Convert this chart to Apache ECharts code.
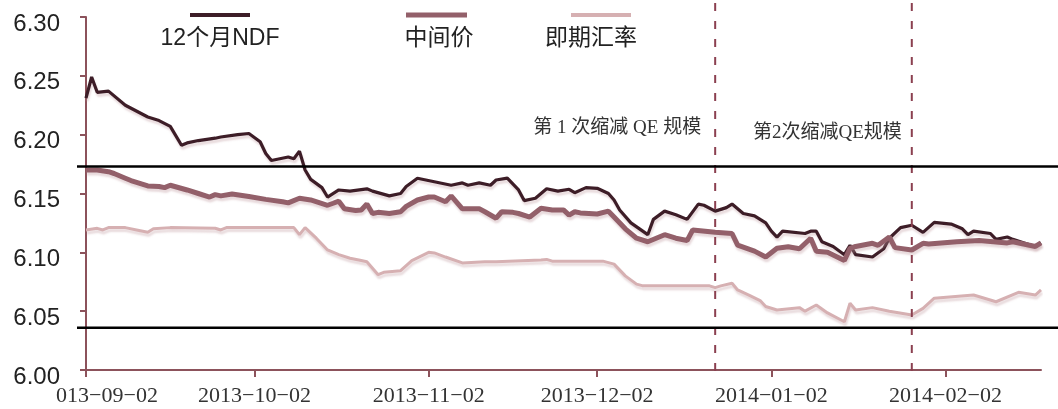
<!DOCTYPE html>
<html><head><meta charset="utf-8">
<script src="https://cdn.jsdelivr.net/npm/echarts@6/dist/echarts.min.js"></script>
<style>html,body{margin:0;padding:0;background:#fff}#c{width:1058px;height:409px}</style>
</head><body><div id="c"></div>
<script>
// ---- data ----
const startDate = '2013-09-02', endDate = '2014-02-19';
const yTicks = { min: 6.00, max: 6.30, step: 0.05 };
const seriesNames = ['12个月NDF', '中间价', '即期汇率'];

const ndfDates = ['2013-09-02','2013-09-03','2013-09-04','2013-09-06','2013-09-09','2013-09-13','2013-09-15','2013-09-17','2013-09-19','2013-09-20','2013-09-22','2013-09-25','2013-09-26','2013-09-29','2013-10-01','2013-10-03','2013-10-04','2013-10-05','2013-10-08','2013-10-09','2013-10-10','2013-10-11','2013-10-12','2013-10-14','2013-10-15','2013-10-17','2013-10-19','2013-10-22','2013-10-23','2013-10-26','2013-10-28','2013-10-29','2013-10-31','2013-11-03','2013-11-06','2013-11-08','2013-11-09','2013-11-11','2013-11-13','2013-11-14','2013-11-16','2013-11-18','2013-11-19','2013-11-21','2013-11-23','2013-11-25','2013-11-27','2013-11-28','2013-11-30','2013-12-02','2013-12-04','2013-12-05','2013-12-06','2013-12-08','2013-12-11','2013-12-12','2013-12-14','2013-12-16','2013-12-18','2013-12-20','2013-12-21','2013-12-23','2013-12-25','2013-12-26','2013-12-28','2013-12-30','2014-01-01','2014-01-02','2014-01-03','2014-01-04','2014-01-08','2014-01-09','2014-01-10','2014-01-11','2014-01-13','2014-01-15','2014-01-16','2014-01-17','2014-01-20','2014-01-22','2014-01-23','2014-01-25','2014-01-27','2014-01-29','2014-01-31','2014-02-03','2014-02-05','2014-02-06','2014-02-07','2014-02-10','2014-02-11','2014-02-13','2014-02-14','2014-02-16','2014-02-18','2014-02-19'];
const ndfValues = [6.231,6.249,6.236,6.237,6.225,6.215,6.212,6.207,6.191,6.193,6.195,6.197,6.198,6.200,6.201,6.194,6.184,6.178,6.181,6.1795,6.186,6.170,6.162,6.155,6.147,6.153,6.152,6.154,6.152,6.148,6.150,6.156,6.163,6.160,6.157,6.159,6.157,6.159,6.157,6.1615,6.163,6.153,6.144,6.146,6.154,6.152,6.1536,6.1507,6.155,6.1544,6.150,6.1445,6.136,6.125,6.115,6.128,6.135,6.132,6.128,6.141,6.140,6.135,6.138,6.141,6.133,6.131,6.125,6.118,6.113,6.118,6.116,6.118,6.118,6.109,6.105,6.098,6.106,6.098,6.096,6.103,6.112,6.121,6.123,6.117,6.1255,6.124,6.120,6.115,6.118,6.116,6.111,6.113,6.111,6.108,6.105,6.108];

const midDates = ['2013-09-02','2013-09-04','2013-09-06','2013-09-07','2013-09-09','2013-09-10','2013-09-12','2013-09-13','2013-09-15','2013-09-16','2013-09-17','2013-09-20','2013-09-22','2013-09-24','2013-09-25','2013-09-26','2013-09-28','2013-10-01','2013-10-04','2013-10-07','2013-10-08','2013-10-10','2013-10-12','2013-10-15','2013-10-16','2013-10-17','2013-10-18','2013-10-20','2013-10-21','2013-10-22','2013-10-23','2013-10-24','2013-10-26','2013-10-28','2013-10-29','2013-10-31','2013-11-02','2013-11-03','2013-11-05','2013-11-06','2013-11-08','2013-11-11','2013-11-12','2013-11-14','2013-11-15','2013-11-17','2013-11-18','2013-11-20','2013-11-22','2013-11-24','2013-11-26','2013-11-27','2013-11-28','2013-11-29','2013-12-02','2013-12-04','2013-12-05','2013-12-07','2013-12-09','2013-12-11','2013-12-14','2013-12-16','2013-12-18','2013-12-19','2013-12-23','2013-12-26','2013-12-27','2013-12-30','2014-01-01','2014-01-03','2014-01-05','2014-01-07','2014-01-09','2014-01-10','2014-01-12','2014-01-15','2014-01-16','2014-01-17','2014-01-20','2014-01-21','2014-01-23','2014-01-24','2014-01-27','2014-01-29','2014-01-30','2014-02-04','2014-02-08','2014-02-13','2014-02-14','2014-02-18','2014-02-19'];
const midValues = [6.170,6.170,6.1685,6.167,6.163,6.161,6.158,6.1564,6.156,6.155,6.157,6.153,6.150,6.147,6.149,6.148,6.1496,6.1475,6.145,6.143,6.142,6.146,6.1445,6.140,6.1417,6.1435,6.137,6.1355,6.136,6.141,6.133,6.134,6.133,6.1345,6.139,6.1445,6.147,6.147,6.143,6.148,6.137,6.137,6.1345,6.129,6.1345,6.134,6.133,6.130,6.1374,6.136,6.136,6.1317,6.1345,6.1335,6.1326,6.135,6.130,6.120,6.112,6.109,6.115,6.112,6.110,6.119,6.117,6.116,6.1062,6.101,6.096,6.1034,6.1048,6.103,6.112,6.101,6.100,6.093,6.1034,6.105,6.1077,6.106,6.113,6.104,6.102,6.1077,6.107,6.109,6.110,6.108,6.109,6.105,6.108];

const spotDates = ['2013-09-02','2013-09-04','2013-09-05','2013-09-06','2013-09-09','2013-09-11','2013-09-13','2013-09-14','2013-09-17','2013-09-25','2013-09-26','2013-09-27','2013-10-09','2013-10-10','2013-10-11','2013-10-13','2013-10-15','2013-10-17','2013-10-19','2013-10-21','2013-10-22','2013-10-24','2013-10-25','2013-10-28','2013-10-30','2013-11-02','2013-11-03','2013-11-05','2013-11-08','2013-11-12','2013-11-14','2013-11-22','2013-11-23','2013-11-24','2013-12-03','2013-12-05','2013-12-07','2013-12-09','2013-12-10','2013-12-22','2013-12-23','2013-12-24','2013-12-26','2013-12-27','2013-12-29','2013-12-31','2014-01-01','2014-01-03','2014-01-07','2014-01-08','2014-01-10','2014-01-12','2014-01-15','2014-01-16','2014-01-17','2014-01-20','2014-01-23','2014-01-27','2014-01-29','2014-01-31','2014-02-07','2014-02-11','2014-02-15','2014-02-18','2014-02-19'];
const spotValues = [6.119,6.1204,6.119,6.121,6.121,6.119,6.117,6.120,6.121,6.1205,6.119,6.121,6.121,6.115,6.121,6.112,6.102,6.098,6.095,6.093,6.092,6.081,6.083,6.0844,6.093,6.100,6.0995,6.096,6.091,6.092,6.092,6.0935,6.094,6.0925,6.0925,6.090,6.080,6.073,6.0717,6.0715,6.070,6.0715,6.0737,6.068,6.0637,6.059,6.054,6.051,6.053,6.050,6.0552,6.0485,6.041,6.0567,6.051,6.053,6.050,6.0467,6.0524,6.061,6.0637,6.058,6.066,6.0637,6.068];

const refLevels = [6.173, 6.036];
const eventDates = ['2013-12-23', '2014-01-27'];
const eventLabels = ['第 1 次缩减 QE 规模', '第2次缩减QE规模'];

// ---- build categories (calendar days) ----
function buildDays(a, b) {
  const out = []; let d = new Date(a + 'T00:00:00Z'); const e = new Date(b + 'T00:00:00Z');
  while (d <= e) { out.push(d.toISOString().slice(0, 10)); d = new Date(d.getTime() + 86400000); }
  return out;
}
const categories = buildDays(startDate, endDate);
const pair = (ds, vs) => ds.map((d, i) => [d, vs[i]]);

const colors = ['#3d1d27', '#93606a', '#d6b0b2'];
const widths = [3.2, 5, 3];
const axisColor = '#8c525b';

const chart = echarts.init(document.getElementById('c'));
const isTick = (i, v) => v.slice(8) === '02';

chart.setOption({
  animation: false,
  backgroundColor: '#fff',
  grid: { left: 86, right: 17, top: 17, bottom: 39, containLabel: false, outerBoundsMode: 'none' },
  xAxis: {
    type: 'category', data: categories, boundaryGap: false,
    axisLine: { lineStyle: { color: axisColor, width: 2 } },
    axisTick: { interval: isTick, length: 7, lineStyle: { color: axisColor, width: 2 } },
    axisLabel: {
      interval: isTick, margin: 15, color: '#333', fontSize: 22,
      fontFamily: 'Liberation Serif, serif',
      formatter: (v, i) => i === 0 ? '{f|' + v.slice(1).replace(/-/g, '−') + '}' : v.replace(/-/g, '−'),
      rich: { f: { fontSize: 22, fontFamily: 'Liberation Serif, serif', color: '#333', padding: [0, 0, 0, 42] } }
    },
    splitLine: { show: false }
  },
  yAxis: {
    type: 'value', min: yTicks.min, max: yTicks.max, interval: yTicks.step,
    axisLine: { show: true, lineStyle: { color: axisColor, width: 2 } },
    axisTick: { show: true, length: 6, lineStyle: { color: axisColor, width: 2 } },
    axisLabel: { margin: 26, color: '#222', fontSize: 24, fontFamily: 'Liberation Sans, Arial, sans-serif',
      formatter: v => '{v|' + v.toFixed(2) + '}',
      rich: { v: { fontSize: 24, fontFamily: 'Liberation Sans, Arial, sans-serif', color: '#222', padding: [14, 0, 0, 0] } } },
    splitLine: { show: false }
  },
  series: [
    { name: seriesNames[0], data: pair(ndfDates, ndfValues) },
    { name: seriesNames[1], data: pair(midDates, midValues) },
    { name: seriesNames[2], data: pair(spotDates, spotValues) }
  ].map((s, k) => Object.assign(s, {
    type: 'line', symbol: 'none', smooth: false, z: 3 + k,
    lineStyle: { color: colors[k], width: widths[k], shadowColor: 'rgba(190,150,155,0.35)', shadowOffsetY: 3, shadowOffsetX: 1, shadowBlur: 2 }
  }))
});

// ---- overlay reference lines, annotations, legend (positions from the axes) ----
const W = 1058;
const g = [];
refLevels.forEach(v => {
  const y = chart.convertToPixel({ yAxisIndex: 0 }, v);
  g.push({ type: 'line', shape: { x1: 77, y1: y, x2: W, y2: y }, style: { stroke: '#000', lineWidth: 2.5 }, z: 100 });
});
eventDates.forEach((d, k) => {
  const x = chart.convertToPixel({ xAxisIndex: 0 }, d);
  g.push({ type: 'line', shape: { x1: x, y1: 3, x2: x, y2: 381 }, style: { stroke: '#8b4050', lineWidth: 2, lineDash: [8, 10] }, z: 90 });
  g.push({ type: 'text', x: x - (k === 0 ? 14 : 10), y: k === 0 ? 128 : 133, z: 100,
    style: { text: eventLabels[k], align: 'right', verticalAlign: 'middle', fontSize: 19,
      fontFamily: 'Liberation Serif, Noto Sans CJK SC, serif', fill: '#333' } });
});
const legendPos = [{ lx: 190, tx: 220 }, { lx: 406, tx: 439 }, { lx: 571, tx: 591 }];
const legendLen = [60, 61, 60];
seriesNames.forEach((n, k) => {
  g.push({ type: 'line', shape: { x1: legendPos[k].lx, y1: 15, x2: legendPos[k].lx + legendLen[k], y2: 15 },
    style: { stroke: colors[k], lineWidth: k === 1 ? 5 : 4 }, z: 100 });
  g.push({ type: 'text', x: legendPos[k].tx, y: 39, z: 100,
    style: { text: n, align: 'center', verticalAlign: 'middle', fontSize: 23,
      fontFamily: 'Liberation Sans, Noto Sans CJK SC, sans-serif', fill: '#222' } });
});
chart.setOption({ graphic: g });
</script></body></html>
